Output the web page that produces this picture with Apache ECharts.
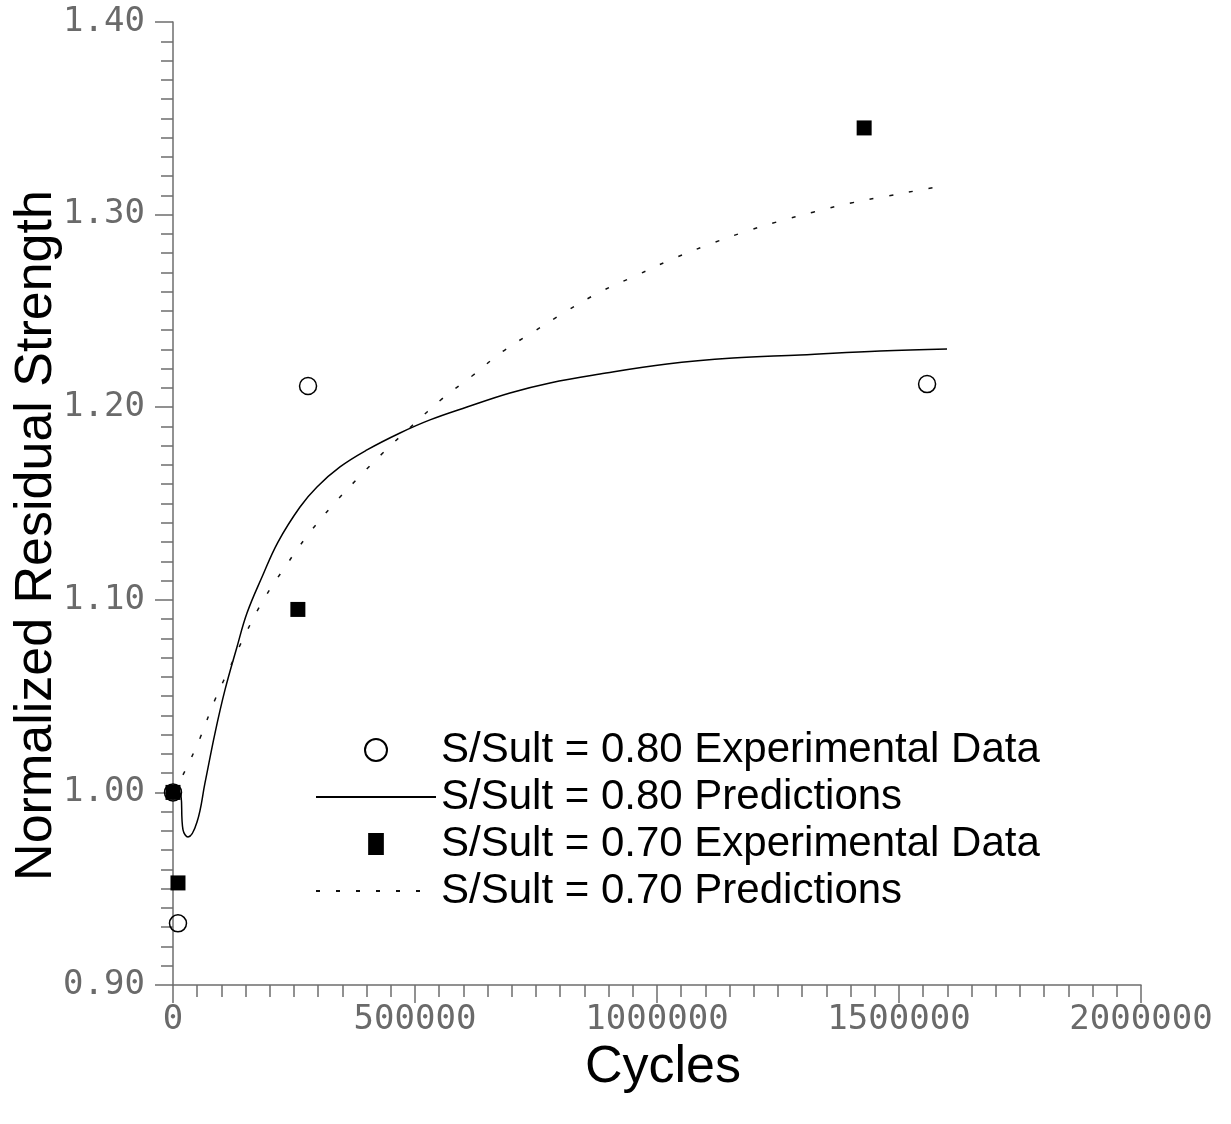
<!DOCTYPE html>
<html>
<head>
    <meta charset="utf-8">
    <title>Normalized Residual Strength</title>
    <script src="https://cdn.jsdelivr.net/npm/echarts@6/dist/echarts.min.js"></script>
    <style type="text/css">
        * {
            margin: 0;
            padding: 0;
        }

        body {
            background: #fff;
            overflow: hidden;
        }
    </style>
</head>
<body>
<div id="main" style="width: 1231px;height: 1124px;"></div>
<script type="text/javascript">
    // S/Sult = 0.80 experimental [cycles, strength]
    var exp80 = [[0, 1.000], [10300, 0.932], [279000, 1.211], [1558000, 1.212]];
    // S/Sult = 0.70 experimental
    var exp70 = [[0, 1.000], [10300, 0.953], [258000, 1.095], [1428000, 1.345]];
    // S/Sult = 0.80 predictions
    var pred80 = [
        [0, 1.000], [14500, 0.9997], [20700, 0.9805], [31000, 0.9768], [49600, 0.9846],
        [66100, 1.0049], [86800, 1.0308], [107400, 1.0532], [132200, 1.0755], [152900, 1.0931],
        [183900, 1.1118], [216900, 1.1300], [262400, 1.1482], [297500, 1.1586], [345000, 1.1690],
        [400800, 1.1778], [469000, 1.1866], [531000, 1.1934], [607400, 1.2001], [696300, 1.2074],
        [779000, 1.2126], [882200, 1.2172], [1020700, 1.2224], [1157000, 1.2255], [1295500, 1.2271],
        [1460700, 1.2292], [1599200, 1.2302]
    ];
    // S/Sult = 0.70 predictions
    var pred70 = [
        [0, 1.000], [22700, 1.0101], [55800, 1.0282], [84700, 1.0469], [117800, 1.0651],
        [150800, 1.0828], [188000, 1.1004], [231400, 1.1170], [276900, 1.1331], [328500, 1.1487],
        [382200, 1.1632], [438000, 1.1773], [495900, 1.1908], [555800, 1.2043], [617800, 1.2162],
        [679800, 1.2287], [743800, 1.2390], [814000, 1.2500], [882200, 1.2598], [954500, 1.2681],
        [1026900, 1.2764], [1099200, 1.2837], [1173600, 1.2904], [1247900, 1.2962], [1324400, 1.3014],
        [1400800, 1.3060], [1477300, 1.3097], [1555800, 1.3133], [1600000, 1.3152]
    ];
    var seriesNames = [
        'S/Sult = 0.80 Experimental Data',
        'S/Sult = 0.80 Predictions',
        'S/Sult = 0.70 Experimental Data',
        'S/Sult = 0.70 Predictions'
    ];

    var axisGrey = '#6e6e6e';
    var tickFont = {
        fontFamily: 'DejaVu Sans Mono',
        fontSize: 34,
        color: '#6a6a6a'
    };

    var myChart = echarts.init(document.getElementById('main'));
    var option = {
        backgroundColor: '#fff',
        animation: false,
        grid: {
            left: 173,
            right: 90,
            top: 22,
            bottom: 139,
            containLabel: false,
            outerBoundsMode: 'none'
        },
        legend: {
            orient: 'vertical',
            left: 310,
            top: 724,
            itemWidth: 120,
            itemHeight: 22,
            itemGap: 5,
            selectedMode: false,
            textStyle: {
                fontFamily: 'Liberation Sans',
                fontSize: 42,
                color: '#000'
            },
            data: [
                {name: seriesNames[0]},
                {name: seriesNames[1], itemStyle: {opacity: 0}},
                {name: seriesNames[2], icon: 'path://M0,0H15V21H0Z'},
                {name: seriesNames[3], itemStyle: {opacity: 0}}
            ]
        },
        xAxis: {
            type: 'value',
            min: 0,
            max: 2000000,
            interval: 500000,
            name: 'Cycles',
            nameLocation: 'middle',
            nameGap: 57,
            nameMoveOverlap: false,
            nameTextStyle: {
                fontFamily: 'Liberation Sans',
                fontSize: 52,
                color: '#000',
                padding: [0, 0, 0, 12]
            },
            axisLine: {lineStyle: {color: axisGrey, width: 1.5}},
            axisTick: {length: 18, lineStyle: {color: axisGrey, width: 1.5}},
            minorTick: {show: true, splitNumber: 10, length: 12, lineStyle: {color: axisGrey, width: 1.5}},
            splitLine: {show: false},
            axisLabel: Object.assign({
                margin: 18,
                formatter: function (v) {
                    return String(v);
                }
            }, tickFont)
        },
        yAxis: {
            type: 'value',
            min: 0.9,
            max: 1.4,
            interval: 0.1,
            name: 'Normalized Residual Strength',
            nameLocation: 'middle',
            nameGap: 110,
            nameMoveOverlap: false,
            nameTextStyle: {
                fontFamily: 'Liberation Sans',
                fontSize: 52,
                color: '#000',
                padding: [0, 64, 0, 0]
            },
            axisLine: {show: true, lineStyle: {color: axisGrey, width: 1.5}},
            axisTick: {show: true, length: 18, lineStyle: {color: axisGrey, width: 1.5}},
            minorTick: {show: true, splitNumber: 10, length: 12, lineStyle: {color: axisGrey, width: 1.5}},
            splitLine: {show: false},
            axisLabel: Object.assign({
                margin: 28,
                formatter: function (v) {
                    return v.toFixed(2);
                }
            }, tickFont)
        },
        series: [
            {
                name: seriesNames[0],
                type: 'scatter',
                data: exp80,
                symbol: 'circle',
                symbolSize: 17,
                clip: false,
                z: 3,
                itemStyle: {color: 'transparent', borderColor: '#000', borderWidth: 1.5, opacity: 1}
            },
            {
                name: seriesNames[1],
                type: 'line',
                data: pred80,
                symbol: 'none',
                smooth: 0.4,
                z: 2,
                itemStyle: {color: '#000'},
                lineStyle: {color: '#000', width: 1.5}
            },
            {
                name: seriesNames[2],
                type: 'scatter',
                data: exp70,
                symbol: 'rect',
                symbolSize: 15,
                clip: false,
                z: 4,
                itemStyle: {color: '#000', opacity: 1}
            },
            {
                name: seriesNames[3],
                type: 'line',
                data: pred70,
                symbol: 'none',
                smooth: 0.4,
                z: 2,
                itemStyle: {color: '#111'},
                lineStyle: {color: '#111', width: 1.5, type: [4, 16]}
            }
        ]
    };
    myChart.setOption(option);
</script>
</body>
</html>
